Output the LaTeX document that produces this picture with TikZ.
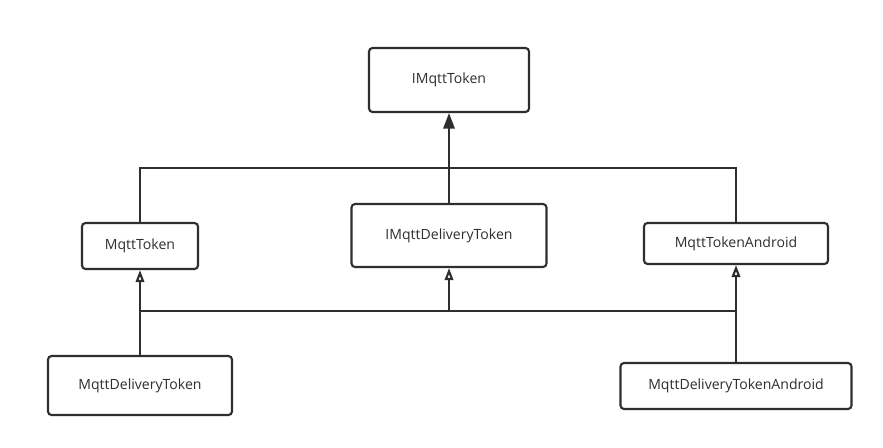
\documentclass[tikz,border=0pt]{standalone}
\usepackage{fontspec}
\setmainfont{Open Sans}
\usetikzlibrary{arrows.meta}
\definecolor{ink}{HTML}{2E2E2E}
\tikzstyle{classbox}=[draw=ink, text=ink, line width=1.5pt, rounded corners=2.5pt, font=\fontsize{10}{12}\selectfont, inner sep=0pt]
\tikzstyle{link}=[draw=ink, line width=1.5pt]
\tikzstyle{realizes}=[link, -{Triangle[length=11pt, width=8pt]}]
\tikzstyle{extends}=[link, -{Triangle[open, length=8.5pt, width=6pt]}]

\begin{document}
\begin{tikzpicture}[x=0.025cm, y=-0.025cm]
      \useasboundingbox (0, 0) rectangle (883, 448);
      \node[classbox, minimum width=160*0.025cm, minimum height=64*0.025cm] (imqtt) at (449, 80) {IMqttToken};
      \node[classbox, minimum width=116*0.025cm, minimum height=46*0.025cm] (mqtttoken) at (140, 246) {MqttToken};
      \node[classbox, minimum width=195*0.025cm, minimum height=63*0.025cm] (idelivery) at (449, 235.5) {IMqttDeliveryToken};
      \node[classbox, minimum width=184*0.025cm, minimum height=41*0.025cm] (android) at (736, 243.5) {MqttTokenAndroid};
      \node[classbox, minimum width=184*0.025cm, minimum height=59*0.025cm] (delivery) at (140, 385.5) {MqttDeliveryToken};
      \node[classbox, minimum width=231*0.025cm, minimum height=46*0.025cm] (deliveryandroid) at (736, 386) {MqttDeliveryTokenAndroid};
      \coordinate (topbus) at (449, 168);
      \coordinate (lowbus) at (449, 311);
      % upper level
      \draw[link] (mqtttoken.north) -- (mqtttoken.north |- topbus)
        -- (android.north |- topbus) -- (android.north);
      \draw[realizes] (idelivery.north) -- (imqtt.south);
      % lower level
      \draw[link] (mqtttoken.south |- lowbus) -- (android.south |- lowbus);
      \draw[extends] (delivery.north) -- (mqtttoken.south);
      \draw[extends] (idelivery.south |- lowbus) -- (idelivery.south);
      \draw[extends] (deliveryandroid.north) -- (android.south);
    \end{tikzpicture}
\end{document}
